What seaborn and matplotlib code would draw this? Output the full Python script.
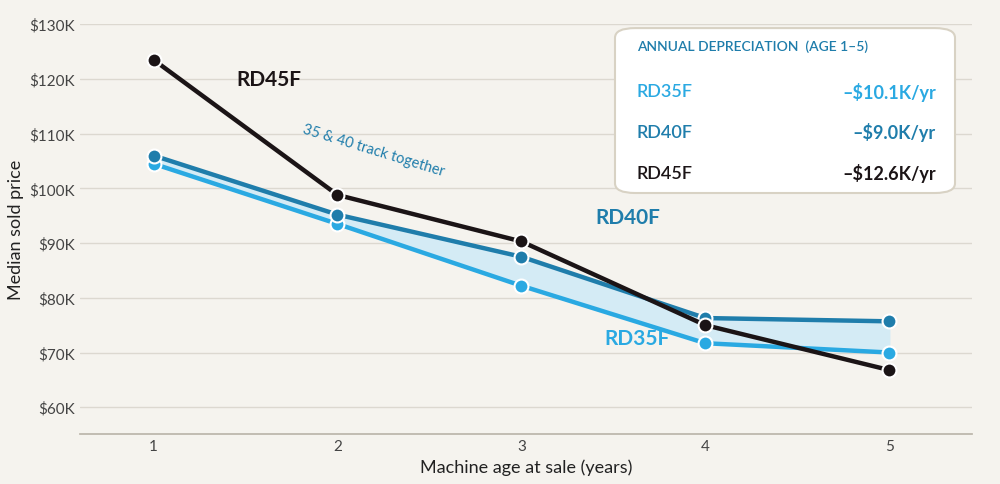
import matplotlib
matplotlib.use("Agg")
import matplotlib.pyplot as plt
import seaborn as sns
import pandas as pd
from matplotlib.patches import FancyBboxPatch

ages = [1, 2, 3, 4, 5]
rd35 = [104.5, 93.5, 82.2, 71.7, 70.0]
rd40 = [106.0, 95.2, 87.5, 76.3, 75.7]
rd45 = [123.5, 98.8, 90.3, 75.0, 66.8]
yticks = [60, 70, 80, 90, 100, 110, 120, 130]
dep_labels = ["RD35F", "RD40F", "RD45F"]
dep_values = ["\u2013$10.1K/yr", "\u2013$9.0K/yr", "\u2013$12.6K/yr"]

bg = "#f5f3ee"
c35, c40, c45 = "#2aa9e2", "#1f7dab", "#1b1416"

sns.set_theme(style="white")
plt.rcParams['font.family'] = ['Lato', 'DejaVu Sans']
fig, ax = plt.subplots(figsize=(10, 4.85), dpi=100)
fig.patch.set_facecolor(bg)
ax.set_facecolor(bg)
fig.subplots_adjust(left=0.08, right=0.972, top=0.948, bottom=0.103)

ax.fill_between(ages, rd35, rd40, color="#d4ebf5", zorder=1)
df = pd.DataFrame({"age": ages * 3, "price": rd35 + rd40 + rd45,
                   "model": ["RD35F"] * 5 + ["RD40F"] * 5 + ["RD45F"] * 5})
sns.lineplot(data=df, x="age", y="price", hue="model",
             palette={"RD35F": c35, "RD40F": c40, "RD45F": c45},
             marker="o", markersize=10, markeredgecolor="white", markeredgewidth=1.5,
             linewidth=3.2, legend=False, ax=ax, zorder=3)

ax.set_xlim(0.6, 5.45)
ax.set_ylim(55.1, 130)
ax.set_xticks(ages)
ax.set_yticks(yticks)
ax.set_yticklabels([f"${v}K" for v in yticks])
ax.grid(axis="y", color="#dcd8d0", linewidth=1)
for s in ["top", "right", "left"]:
    ax.spines[s].set_visible(False)
ax.spines["bottom"].set_color("#bbb5aa")
ax.tick_params(colors="#444444", labelsize=11, length=0)
ax.set_xlabel("Machine age at sale (years)", fontsize=13, color="#222")
ax.set_ylabel("Median sold price", fontsize=13, color="#222")

ax.text(1.45, 120.0, "RD45F", fontsize=15, fontweight="bold", color=c45, va="center")
ax.text(3.4, 94.7, "RD40F", fontsize=15, fontweight="bold", color=c40, va="center")
ax.text(3.45, 72.6, "RD35F", fontsize=15, fontweight="bold", color=c35, va="center", zorder=4)
ax.text(1.8, 102.5, "35 & 40 track together", fontsize=10.5, color=c40, rotation=-17)

box = FancyBboxPatch((0.615, 0.6), 0.34, 0.34, boxstyle="round,pad=0,rounding_size=0.02",
                     transform=fig.transFigure, facecolor="white", edgecolor="#d8d2c4",
                     linewidth=1.5, zorder=5)
fig.patches.append(box)
fig.text(0.637, 0.895, "ANNUAL DEPRECIATION  (AGE 1\u20135)", fontsize=10, color=c40,
         fontweight="semibold", zorder=6)
cols = [c35, c40, c45]
for i, (lab, val) in enumerate(zip(dep_labels, dep_values)):
    y = 0.81 - i * 0.084
    fig.text(0.637, y, lab, fontsize=13, color=cols[i], va="center", fontweight="semibold", zorder=6)
    fig.text(0.936, y, val, fontsize=13, color=cols[i], fontweight="bold", ha="right", va="center", zorder=6)

fig.savefig("out.png", dpi=100, facecolor=bg)
